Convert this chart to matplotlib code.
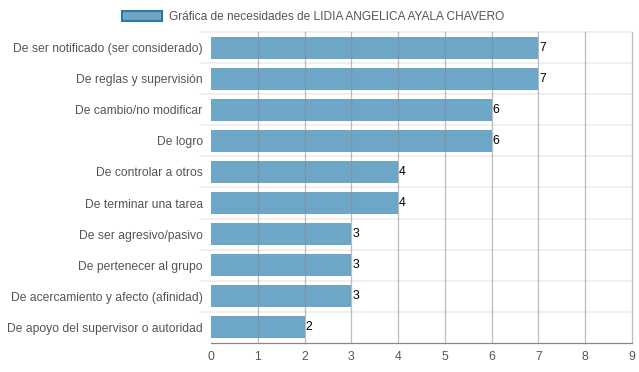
import matplotlib
matplotlib.use("Agg")
import matplotlib.pyplot as plt
from matplotlib.patches import Patch

categories = [
    "De ser notificado (ser considerado)",
    "De reglas y supervisión",
    "De cambio/no modificar",
    "De logro",
    "De controlar a otros",
    "De terminar una tarea",
    "De ser agresivo/pasivo",
    "De pertenecer al grupo",
    "De acercamiento y afecto (afinidad)",
    "De apoyo del supervisor o autoridad",
]
values = [7, 7, 6, 6, 4, 4, 3, 3, 3, 2]
xticks = list(range(0, 10))
legend_label = "Gráfica de necesidades de LIDIA ANGELICA AYALA CHAVERO"

plt.rcParams['font.family'] = ['Liberation Sans', 'DejaVu Sans']

fig = plt.figure(figsize=(6.39, 3.72), dpi=100)
ax = fig.add_axes([211/639, 1-343/372, (632-211)/639, (343-32)/372])

n = len(categories)
ypos = list(range(n))
ax.barh(ypos, values, height=0.71, color="#6ea6c7", zorder=1)
ax.set_ylim(n - 0.5, -0.5)
ax.set_xlim(0, 9)
ax.set_xticks(xticks)
ax.set_yticks(ypos)
ax.set_yticklabels(categories)

for x in xticks[1:]:
    ax.axvline(x, color="#888888", lw=0.9, alpha=0.55, zorder=3, clip_on=False)

for i in range(n):
    ax.plot([-0.23, 9], [i - 0.5, i - 0.5], color="#eeeeee", lw=1.2,
            clip_on=False, zorder=0)

for y, v in zip(ypos, values):
    ax.text(v + 0.02, y, str(v), va="center", ha="left", fontsize=8.8,
            color="black", zorder=4)

for s in ["top", "right", "left"]:
    ax.spines[s].set_visible(False)
ax.spines["bottom"].set_color("#888888")
ax.spines["bottom"].set_linewidth(0.9)
ax.tick_params(axis="y", length=0, pad=6, labelsize=8.7, labelcolor="#555555")
ax.tick_params(axis="x", length=0, pad=6, labelsize=8.8, labelcolor="#555555")

handle = Patch(facecolor="#6ea6c7", edgecolor="#2e78a8", linewidth=1.5)
fig.legend([handle], [legend_label], loc="upper center",
           bbox_to_anchor=(0.49, 1.0), frameon=False, fontsize=8.6,
           handlelength=3.3, handleheight=1.0, handletextpad=0.6,
           labelcolor="#555555")

fig.savefig("out.png", dpi=100)
